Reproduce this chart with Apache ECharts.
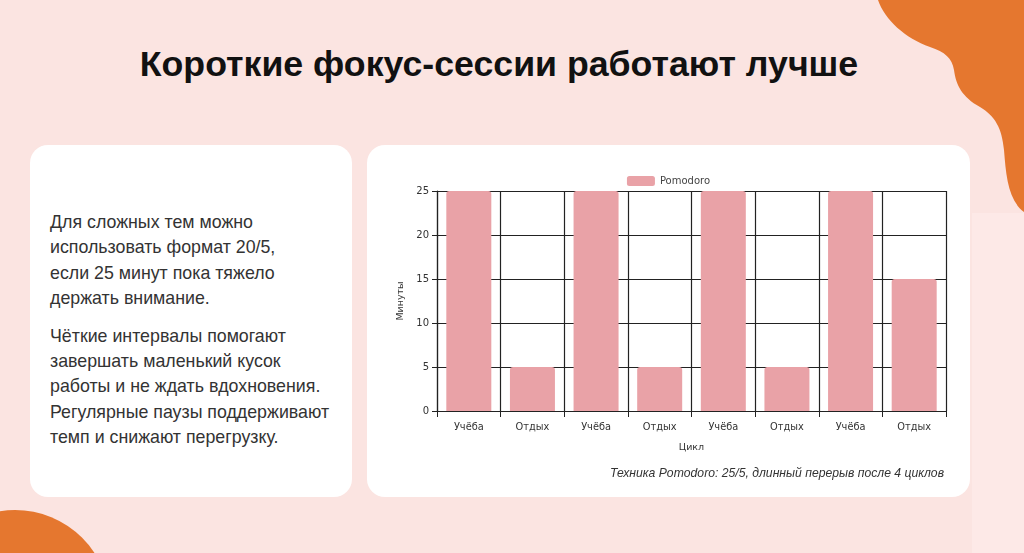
<!DOCTYPE html>
<html>
<head>
<meta charset="utf-8">
<script src="https://cdn.jsdelivr.net/npm/echarts@6/dist/echarts.min.js"></script>
<style>
  html, body { margin: 0; padding: 0; }
  body {
    width: 1024px; height: 553px; overflow: hidden; position: relative;
    background: #fbe4e1; font-family: "Liberation Sans", Arial, sans-serif;
  }
  .deco { position: absolute; left: 0; top: 0; }
  .title {
    position: absolute; left: 0; width: 998px; top: 41px; text-align: center;
    font-size: 35.7px; font-weight: bold; color: #111; line-height: 46px;
  }
  .card {
    position: absolute; background: #fff; border-radius: 18px;
  }
  .left { left: 30px; top: 145px; width: 322px; height: 352px; }
  .right { left: 367px; top: 145px; width: 603px; height: 352px; }
  .text {
    position: absolute; left: 20px; top: 65px; width: 302px;
    font-size: 17.8px; line-height: 25.4px; color: #333; white-space: nowrap;
  }
  .text p { margin: 0 0 12px 0; }
  #main { position: absolute; left: 0; top: 0; width: 603px; height: 352px; }
</style>
</head>
<body>
<svg class="deco" width="1024" height="553">
  <rect x="972" y="213" width="52" height="340" fill="#fde9e7"/>
  <path d="M878,0 C885,20 905,38 930,47 C945,52 952,58 954,70 C956,85 962,97 980,107 C995,116 1002,128 1004,150 C1006,175 1008,200 1024,212 L1024,0 Z" fill="#e5772f"/>
  <circle cx="15" cy="605" r="95" fill="#e5772f"/>
</svg>
<div class="title">Короткие фокус-сессии работают лучше</div>
<div class="card left">
  <div class="text">
    <p>Для сложных тем можно<br>использовать формат 20/5,<br>если 25 минут пока тяжело<br>держать внимание.</p>
    <p>Чёткие интервалы помогают<br>завершать маленький кусок<br>работы и не ждать вдохновения.<br>Регулярные паузы поддерживают<br>темп и снижают перегрузку.</p>
  </div>
</div>
<div class="card right"><div id="main"></div></div>
<script>
  var categories = ["Учёба", "Отдых", "Учёба", "Отдых", "Учёба", "Отдых", "Учёба", "Отдых"];
  var minutes = [25, 5, 25, 5, 25, 5, 25, 15];
  var seriesName = "Pomodoro";
  var yMin = 0, yMax = 25, yStep = 5;
  var caption = "Техника Pomodoro: 25/5, длинный перерыв после 4 циклов";

  var chartFont = "DejaVu Sans";
  var myChart = echarts.init(document.getElementById("main"));
  var option = {
    animation: false,
    title: {
      text: caption,
      right: 21,
      bottom: 12,
      textStyle: {
        fontFamily: "Liberation Sans",
        fontStyle: "italic",
        fontWeight: "normal",
        fontSize: 12.2,
        color: "#333",
      },
    },
    legend: {
      top: 26,
      left: "center",
      itemWidth: 28,
      itemHeight: 10,
      itemGap: 8,
      textStyle: { fontFamily: chartFont, fontSize: 10, color: "#444" },
      data: [seriesName],
    },
    grid: { left: 70, right: 24, top: 46, bottom: 86 },
    xAxis: {
      type: "category",
      data: categories,
      name: "Цикл",
      nameLocation: "middle",
      nameGap: 32,
      nameTextStyle: { fontFamily: chartFont, fontSize: 9.5, color: "#333" },
      axisLine: { lineStyle: { color: "#222", width: 1.2 } },
      axisTick: { show: true, length: 6, lineStyle: { color: "#222" } },
      axisLabel: { fontFamily: chartFont, fontSize: 9.8, color: "#333", margin: 11 },
      splitLine: { show: true, lineStyle: { color: "#222", width: 1.2 } },
    },
    yAxis: {
      type: "value",
      min: yMin,
      max: yMax,
      interval: yStep,
      name: "Минуты",
      nameLocation: "middle",
      nameGap: 29,
      nameTextStyle: { fontFamily: chartFont, fontSize: 9.5, color: "#333" },
      axisLine: { show: true, lineStyle: { color: "#222", width: 1.2 } },
      axisTick: { show: true, length: 5, lineStyle: { color: "#222" } },
      axisLabel: { fontFamily: chartFont, fontSize: 10, color: "#333", margin: 8 },
      splitLine: { show: true, lineStyle: { color: "#222", width: 1.2 } },
    },
    series: [
      {
        name: seriesName,
        type: "bar",
        data: minutes,
        barWidth: 45,
        itemStyle: { color: "#e9a2a7", borderRadius: [3, 3, 0, 0] },
      },
    ],
  };
  myChart.setOption(option);
</script>
</body>
</html>
